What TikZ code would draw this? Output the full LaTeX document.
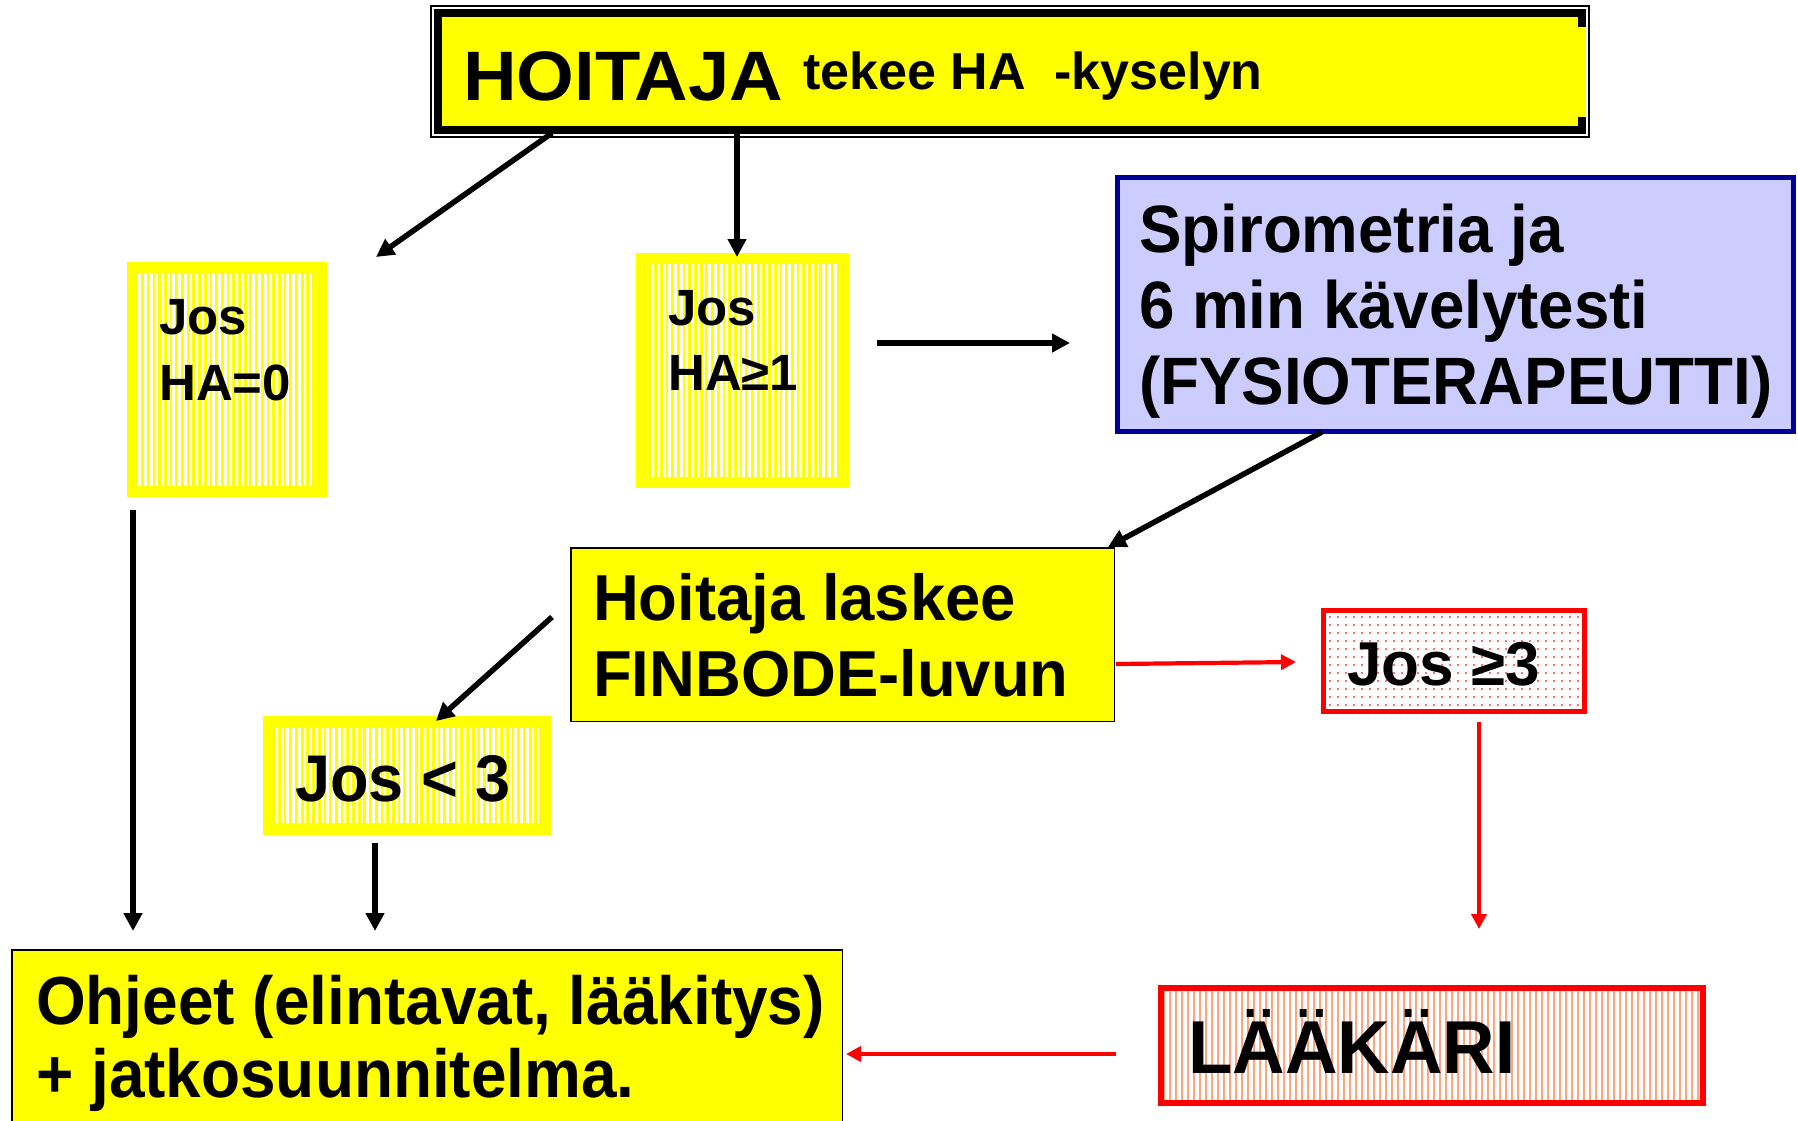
\documentclass[tikz,border=0pt]{standalone}
\usepackage{fontspec}
\setmainfont{Liberation Sans}
\usetikzlibrary{arrows.meta,patterns.meta}
\definecolor{yel}{RGB}{255,255,0}
\definecolor{lav}{RGB}{204,204,255}
\definecolor{dblue}{RGB}{0,0,153}
\definecolor{salm}{RGB}{255,165,125}
\newcommand{\fsz}[3]{\fontsize{#1}{#2}\selectfont\addfontfeature{FakeStretch=#3}}
\begin{document}
\begin{tikzpicture}[x=1pt,y=-1pt,
  txt/.style={inner sep=0pt, anchor=base west, align=left},
  plainbox/.style={draw=black, fill=yel, line width=1.5pt, inner sep=0pt},
  ystripe/.style={draw=yel, line width=11pt, inner sep=0pt,
     pattern={Lines[angle=90,distance=5.7pt,line width=2.8pt]}, pattern color=yel},
  barrow/.style={line width=5.5pt, -{Triangle[length=18pt,width=18pt]}},
  rarrow/.style={draw=red, line width=4.2pt, -{Triangle[length=15pt,width=15pt]}},
  rdot/.style={fill=red!75}]
\fill[white] (0,0) rectangle (1798,1120);
\useasboundingbox (0,0) rectangle (1798,1120);

% top box
\draw[line width=1.5pt] (431,6) rectangle (1589,137);
\node[draw=black, fill=yel, line width=8pt, inner sep=0pt, minimum width=1144pt, minimum height=117pt] (top) at (1010,71.5) {};
\fill[yel] (1578,27) rectangle (1586,117);
\node[txt, font={\bfseries\fsz{70}{84}{1.06}}] (toptxt) at (463,100) {HOITAJA};
\node[txt, font={\bfseries\fsz{52}{62}{1.0}}] (toptxtb) at (803,89) {tekee HA\ \ -kyselyn};

% Jos HA=0
\node[ystripe, minimum width=189pt, minimum height=224pt] (ha0) at (227,379.5) {};
\node[txt, font={\bfseries\fsz{51}{66}{1.0}}] (ha0txt) at (159,400) {Jos\\HA=0};

% Jos HA>=1
\node[ystripe, minimum width=202pt, minimum height=224pt] (ha1) at (742.5,370.5) {};
\node[txt, font={\bfseries\fsz{51}{65}{1.0}}] (ha1txt) at (668,390) {Jos\\HA≥1};

% Spirometria
\node[draw=dblue, fill=lav, line width=5pt, inner sep=0pt, minimum width=676pt, minimum height=254pt] (spiro) at (1455.5,304.5) {};
\node[txt, font={\bfseries\fsz{67}{76}{0.95}}] (spirotxt) at (1139,404) {Spirometria ja\\6 min kävelytesti\\(FYSIOTERAPEUTTI)};

% Hoitaja laskee
\node[plainbox, minimum width=543.5pt, minimum height=173.5pt] (lask) at (842.5,634.5) {};
\node[txt, font={\bfseries\fsz{65}{76}{0.975}}] (lasktxt) at (593,696) {Hoitaja laskee\\FINBODE-luvun};

% Jos < 3
\node[draw=yel, line width=12pt, inner sep=0pt,
     pattern={Lines[angle=90,distance=5.7pt,line width=2.8pt]}, pattern color=yel,
     minimum width=276pt, minimum height=107pt] (lt3) at (407,775.5) {};
\node[txt, font={\bfseries\fsz{66}{76}{0.955}}] (lt3txt) at (295,801) {Jos < 3};

% Jos >= 3 (dotted fill)
\foreach \i in {0,...,31}{
  \foreach \j in {0,...,11}{
    \fill[rdot] ({1330+\i*8},{617+\j*8}) circle (1.1pt);
  }
}
\node[draw=red, line width=5pt, inner sep=0pt,
     minimum width=261pt, minimum height=101pt] (ge3) at (1454,661) {};
\node[txt, font={\bfseries\fsz{62}{76}{1.0}}] (ge3txt) at (1347,685) {Jos ≥3};

% LAAKARI
\node[draw=red, line width=6pt, inner sep=0pt,
     pattern={Lines[angle=90,distance=6pt,line width=1.8pt]}, pattern color=salm,
     minimum width=542pt, minimum height=115pt] (laak) at (1432,1045.5) {};
\node[txt, font={\bfseries\fsz{75}{90}{0.97}}] (laaktxt) at (1188,1073) {LÄÄKÄRI};

% Ohjeet
\node[plainbox, minimum width=830.5pt, minimum height=175.5pt] (ohj) at (427,1037.5) {};
\node[txt, font={\bfseries\fsz{68}{73}{0.94}}] (ohjtxt) at (36,1097) {Ohjeet (elintavat, lääkitys)\\+ jatkosuunnitelma.};

% connector end points
\coordinate (a1s) at (552,133);  \coordinate (a1e) at (376,257);
\coordinate (a2s) at (737,133);  \coordinate (a2e) at (737,257);
\coordinate (a3s) at (877,343);  \coordinate (a3e) at (1070,343);
\coordinate (a4s) at (1322,432); \coordinate (a4e) at (1108,547);
\coordinate (a5s) at (552,617);  \coordinate (a5e) at (436,721);
\coordinate (a6s) at (1116,664); \coordinate (a6e) at (1296,662);
\coordinate (a7s) at (1479,722); \coordinate (a7e) at (1479,929);
\coordinate (a8s) at (1116,1054);\coordinate (a8e) at (846,1054);
\coordinate (a9s) at (133,510);  \coordinate (a9e) at (133,931);
\coordinate (a10s) at (375,843); \coordinate (a10e) at (375,931);

\draw[barrow] (a1s) -- (a1e);
\draw[barrow] (a2s) -- (a2e);
\draw[barrow] (a3s) -- (a3e);
\draw[barrow] (a4s) -- (a4e);
\draw[barrow] (a5s) -- (a5e);
\draw[rarrow] (a6s) -- (a6e);
\draw[rarrow] (a7s) -- (a7e);
\draw[rarrow] (a8s) -- (a8e);
\draw[barrow] (a9s) -- (a9e);
\draw[barrow] (a10s) -- (a10e);
\end{tikzpicture}
\end{document}
